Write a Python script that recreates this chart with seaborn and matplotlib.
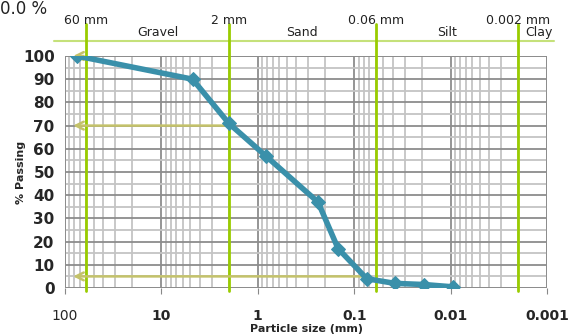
import numpy as np
import matplotlib
matplotlib.use('Agg')
import matplotlib.pyplot as plt
import seaborn as sns
import pandas as pd

# Grading curve values
size_mm = [75, 4.75, 2.0, 0.83, 0.237, 0.147, 0.074, 0.038, 0.019, 0.0095]
passing = [100, 90, 71, 57, 37, 17, 4, 2, 1.5, 0.5]

# Soil class boundaries
bound_mm = [60, 2, 0.06, 0.002]
bound_labels = ['60 mm', '2 mm', '0.06 mm', '0.002 mm']
class_names = ['Gravel', 'Sand', 'Silt', 'Clay']
class_pos = [11, 0.35, 0.011, 0.0012]

# Read-off arrows (from size to % axis)
arrow_from = [60, 2, 0.075]
arrow_pct = [100, 70, 5]

xticks = [100, 10, 1, 0.1, 0.01, 0.001]
xtick_labels = ['100', '10', '1', '0.1', '0.01', '0.001']
yticks = list(range(0, 101, 10))

df = pd.DataFrame({'size': size_mm, 'passing': passing})

sns.set_style('white')
plt.rcParams['font.family'] = ['DejaVu Sans']

fig = plt.figure(figsize=(5.71, 3.36), dpi=100)
ax = fig.add_axes([65 / 571, 48 / 336, 482 / 571, 232 / 336])

ax.set_xscale('log')
ax.set_xlim(100, 0.001)
ax.set_ylim(0, 100)

# grid
ax.set_yticks(yticks)
ax.set_yticks(list(range(5, 100, 10)), minor=True)
ax.set_xticks(xticks)
ax.xaxis.set_minor_locator(matplotlib.ticker.LogLocator(base=10, subs=np.arange(2, 10)))
ax.grid(True, which='major', color='#8c8c8c', lw=1.3)
ax.grid(True, which='minor', color='#c4c4c4', lw=1.3)
ax.set_axisbelow(True)
for s in ax.spines.values():
    s.set_visible(False)
ax.axvline(100, color='#8c8c8c', lw=1.3)
ax.axvline(0.001, color='#8c8c8c', lw=1.3)
ax.axhline(100, color='#8c8c8c', lw=1.3)
ax.axhline(0, color='#8c8c8c', lw=1.3)

# boundary lines, extending above the axes
for b, lab in zip(bound_mm, bound_labels):
    ax.plot([b, b], [-1.5, 114], color='#99cc00', lw=2, clip_on=False, zorder=3)
    ax.text(b, 112.3, lab, ha='center', va='bottom', fontsize=9, color='#222222')
ax.plot([130, 0.00085], [106.5, 106.5], color='#c5e17a', lw=1.5, clip_on=False)
for name, x in zip(class_names, class_pos):
    ax.text(x, 107.3, name, ha='center', va='bottom', fontsize=9, color='#222222')

# arrows
for x0, p in zip(arrow_from, arrow_pct):
    ax.annotate('', xy=(88, p), xytext=(x0, p),
                arrowprops=dict(arrowstyle='->', color='#c4c26a', lw=1.8,
                                mutation_scale=14), zorder=4)

sns.lineplot(data=df, x='size', y='passing', ax=ax, color='#3a90aa', lw=4,
             marker='D', markersize=7, markeredgecolor='#3a90aa', zorder=5)

ax.set_xticklabels(xtick_labels)
for t in ax.get_xticklabels():
    t.set_fontweight('normal' if t.get_text() == '100' else 'bold')
    t.set_fontsize(10)
ax.tick_params(axis='x', which='major', bottom=True, length=4, color='#888888', pad=11)
ax.tick_params(axis='x', which='minor', bottom=False)
ax.tick_params(axis='y', labelsize=11, pad=4, left=False)
for t in ax.get_yticklabels():
    t.set_fontweight('heavy')
ax.set_xlabel('Particle size (mm)', fontsize=8, fontweight='bold', labelpad=1)
ax.set_ylabel('% Passing', fontsize=8, fontweight='bold', labelpad=-2)

fig.text(0.0, 1.0, '0.0 %', ha='left', va='top', fontsize=12, color='#222222')

fig.savefig('out.png', dpi=100)
